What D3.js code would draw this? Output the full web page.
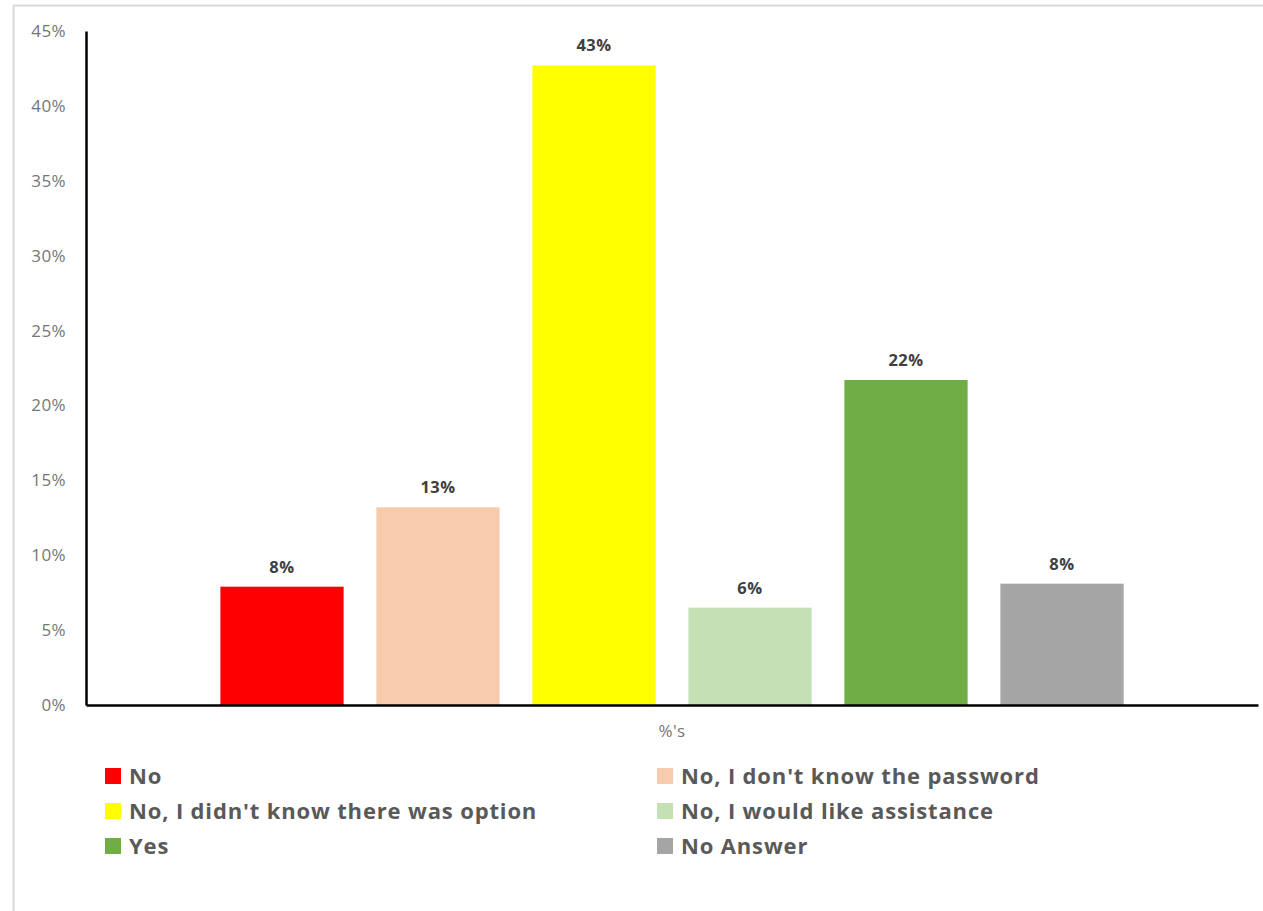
<!DOCTYPE html>
<html>
<head>
<meta charset="utf-8">
<script src="https://cdn.jsdelivr.net/npm/d3@7"></script>
<style>
  html, body { margin: 0; padding: 0; background: #fff; }
  svg { display: block; }
</style>
</head>
<body>
<svg id="chart" width="1263" height="911"></svg>
<script>
const categories = ["%'s"];
const series = ["No", "No, I don't know the password", "No, I didn't know there was option", "No, I would like assistance", "Yes", "No Answer"];
const values = [0.079, 0.132, 0.427, 0.065, 0.217, 0.081];
const labels = ["8%", "13%", "43%", "6%", "22%", "8%"];
const colors = ["#ff0000", "#f8cbad", "#ffff00", "#c5e0b4", "#70ad47", "#a5a5a5"];
const yTicks = [0, 0.05, 0.10, 0.15, 0.20, 0.25, 0.30, 0.35, 0.40, 0.45];

const svg = d3.select("#chart");
const font = "'Open Sans', 'DejaVu Sans', sans-serif";

// outer frame
svg.append("path")
  .attr("d", "M13.5,911 L13.5,5.5 L1263,5.5")
  .attr("fill", "none").attr("stroke", "#d9d9d9").attr("stroke-width", 2);

const margin = { left: 86, right: 1258, top: 31, bottom: 705 };
const y = d3.scaleLinear().domain([0, 0.45]).range([margin.bottom, margin.top]);
const x0 = d3.scaleBand().domain(categories).range([margin.left, margin.right]).paddingInner(0).paddingOuter(0.1);
const groupW = 936;
const x1 = d3.scaleBand().domain(series).range([0, groupW]).paddingInner(0.21).paddingOuter(0.105);

const g = svg.append("g");
const cx = x0(categories[0]) + x0.bandwidth() / 2 - groupW / 2;

g.selectAll("rect.bar").data(series).enter().append("rect")
  .attr("class", "bar")
  .attr("x", d => cx + x1(d))
  .attr("width", x1.bandwidth())
  .attr("y", (d, i) => y(values[i]))
  .attr("height", (d, i) => y(0) - y(values[i]))
  .attr("fill", (d, i) => colors[i]);

g.selectAll("text.lbl").data(series).enter().append("text")
  .attr("class", "lbl")
  .attr("x", d => cx + x1(d) + x1.bandwidth() / 2)
  .attr("y", (d, i) => y(values[i]) - 14)
  .attr("text-anchor", "middle")
  .attr("font-family", font).attr("font-weight", "bold").attr("font-size", 16.5)
  .attr("letter-spacing", 0.5)
  .attr("fill", "#404040")
  .text((d, i) => labels[i]);

// y axis
const yAxis = d3.axisLeft(y).tickValues(yTicks).tickFormat(d3.format(".0%")).tickSize(0).tickPadding(20);
const ya = svg.append("g").attr("transform", `translate(${margin.left},0)`).call(yAxis);
ya.select(".domain").attr("stroke", "#000").attr("stroke-width", 2.5);
ya.selectAll("text").attr("font-family", font).attr("font-size", 17).attr("letter-spacing", 0.4).attr("fill", "#767676");

// x axis
const xAxis = d3.axisBottom(x0).tickSize(0).tickPadding(20).tickSizeOuter(0);
const xa = svg.append("g").attr("transform", `translate(0,${margin.bottom})`).call(xAxis);
xa.select(".domain").attr("stroke", "#000").attr("stroke-width", 2.5);
xa.selectAll("text").attr("font-family", font).attr("font-size", 17).attr("letter-spacing", 0.4).attr("fill", "#767676");

// legend
const legCols = [105, 657];
const legRows = [776, 811, 846];
const leg = svg.append("g");
series.forEach((s, i) => {
  const lx = legCols[i % 2], ly = legRows[Math.floor(i / 2)];
  leg.append("rect").attr("x", lx).attr("y", ly - 8).attr("width", 16).attr("height", 16).attr("fill", colors[i]);
  leg.append("text").attr("x", lx + 24).attr("y", ly).attr("dy", "0.35em")
    .attr("font-family", font).attr("font-weight", "bold").attr("font-size", 22)
    .attr("letter-spacing", 0.85)
    .attr("fill", "#595959").text(s);
});
</script>
</body>
</html>
